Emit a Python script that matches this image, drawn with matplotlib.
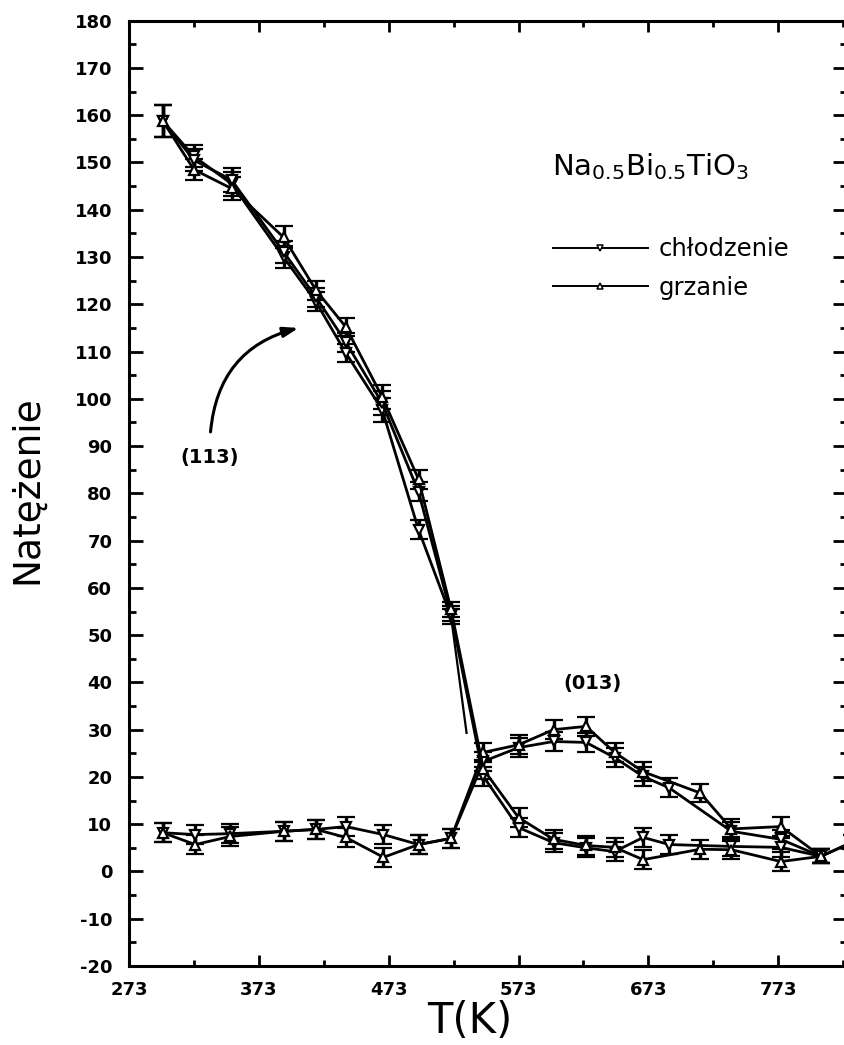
import matplotlib
matplotlib.use("Agg")
import matplotlib.pyplot as plt
from matplotlib.lines import Line2D
from matplotlib.ticker import MultipleLocator, FixedLocator

plt.rcParams['font.family'] = ['DejaVu Sans']
plt.rcParams['mathtext.fontset'] = 'custom'
plt.rcParams['mathtext.rm'] = 'DejaVu Sans'
plt.rcParams['mathtext.it'] = 'DejaVu Sans'
plt.rcParams['axes.unicode_minus'] = False

# ---------------- data ----------------
# (113) reflection
T113_heat = [299, 323, 352, 392, 417, 440, 468, 496, 521, 546, 573, 600, 625, 647, 669, 713, 737, 775, 806]
I113_heat = [158.8, 148.5, 144.5, 134.2, 123.0, 115.2, 100.4, 83.0, 55.5, 21.6, 11.4, 6.8, 5.5, 5.1, 2.5, 4.7, 4.6, 2.1, 3.2]
E113_heat = [3.4, 2.3, 2.5, 2.3, 2.0, 2.0, 2.5, 2.0, 1.6, 2.0, 2.0, 2.0, 2.0, 2.0, 2.0, 2.0, 2.0, 2.0, 1.5]

T113_cool = [299, 323, 352, 392, 417, 440, 468, 496, 521, 546, 573, 600, 625, 647, 669, 689, 737, 775, 806]
I113_cool = [158.8, 150.5, 146.3, 131.1, 121.5, 112.0, 99.1, 80.3, 54.5, 20.1, 9.3, 6.1, 5.0, 4.2, 7.2, 5.7, 5.3, 5.1, 3.2]
E113_cool = [3.4, 2.3, 2.5, 2.3, 2.0, 2.0, 2.5, 2.0, 1.6, 2.0, 2.0, 2.0, 2.0, 2.0, 2.0, 2.0, 2.0, 2.0, 1.5]

T113_cool2 = [299, 323, 352, 392, 417, 440, 468, 496, 521]
I113_cool2 = [158.8, 151.3, 145.5, 130.0, 120.5, 109.7, 97.7, 72.3, 54.0]
E113_cool2 = [3.4, 2.3, 2.5, 2.3, 2.0, 2.0, 2.5, 2.0, 1.6]
# extrapolated tail of the (113) drop (no measured marker)
T113_tail = [521, 533]
I113_tail = [54.0, 29.3]

# (013) reflection
T013_heat = [299, 324, 351, 392, 417, 440, 469, 496, 521, 546, 573, 600, 625, 647, 669, 713, 737, 775, 806, 830]
I013_heat = [8.2, 5.7, 7.4, 8.5, 8.9, 7.2, 3.0, 5.7, 7.0, 25.2, 26.8, 30.0, 30.7, 25.2, 21.1, 16.6, 9.0, 9.5, 3.2, 6.2]
E013_heat = [2.0] * 18 + [1.5, 1.5]

T013_cool = [299, 324, 351, 392, 417, 440, 469, 496, 521, 546, 573, 600, 625, 647, 669, 689, 737, 775, 806, 830]
I013_cool = [8.2, 7.8, 8.0, 8.5, 8.9, 9.5, 7.8, 5.7, 7.0, 23.3, 26.2, 27.5, 27.3, 24.1, 20.1, 17.7, 8.5, 6.8, 3.2, 6.2]
E013_cool = [2.0] * 18 + [1.5, 1.5]

xticks_major = [273, 373, 473, 573, 673, 773]
xticks_minor = [323, 423, 523, 623, 723, 823]

label_cool = 'chłodzenie'
label_heat = 'grzanie'

# ---------------- figure ----------------
W, H = 844, 1045
fig = plt.figure(figsize=(W / 100, H / 100), dpi=100)
ax_left, ax_right, ax_top, ax_bot = 129, 847, 20.7, 966
ax = fig.add_axes([ax_left / W, 1 - ax_bot / H, (ax_right - ax_left) / W, (ax_bot - ax_top) / H])
ax.set_xlim(273, 826)
ax.set_ylim(-20, 180)

line_kw = dict(color='black', lw=2.0, ms=7.0, mfc='white', mec='black', mew=1.6,
               elinewidth=2.4, capsize=6.5, capthick=2.4, ecolor='black')

ax.errorbar(T013_cool, I013_cool, yerr=E013_cool, marker='v', **line_kw)
ax.errorbar(T013_heat, I013_heat, yerr=E013_heat, marker='^', **line_kw)
ax.plot(T113_tail, I113_tail, color='black', lw=1.6)
ax.errorbar(T113_cool2, I113_cool2, yerr=E113_cool2, marker='v', **line_kw)
ax.errorbar(T113_cool, I113_cool, yerr=E113_cool, marker='v', **line_kw)
ax.errorbar(T113_heat, I113_heat, yerr=E113_heat, marker='^', **line_kw)

# ticks
ax.xaxis.set_major_locator(FixedLocator(xticks_major))
ax.xaxis.set_minor_locator(FixedLocator(xticks_minor))
ax.yaxis.set_major_locator(MultipleLocator(10))
ax.yaxis.set_minor_locator(MultipleLocator(5))
ax.tick_params(axis='both', which='both', direction='in', top=True, right=True, width=2.0, labelsize=13)
ax.tick_params(axis='y', which='major', length=10, pad=12)
ax.tick_params(axis='y', which='minor', length=5)
ax.tick_params(axis='x', which='major', length=8, pad=11)
ax.tick_params(axis='x', which='minor', length=4)
for lab in ax.get_xticklabels() + ax.get_yticklabels():
    lab.set_fontweight('bold')
for s in ax.spines.values():
    s.set_linewidth(2.2)

ax.set_xlabel('T(K)', fontsize=30)
ax.set_ylabel('Natężenie', fontsize=27)
ax.xaxis.set_label_coords(0.475, -0.036)
ax.yaxis.set_label_coords(-0.117, 0.5035)

# annotations
ax.text(598.5, 147.4, r'$\mathregular{Na_{0.5}Bi_{0.5}TiO_3}$', fontsize=21, ha='left', va='baseline')
ax.text(335, 87.5, '(113)', fontsize=14, fontweight='bold', ha='center', va='center')
ax.text(630, 39.7, '(013)', fontsize=14, fontweight='bold', ha='center', va='center')
ax.annotate('', xy=(403.6, 115.0), xytext=(335.8, 93.0),
            arrowprops=dict(arrowstyle='-|>,head_length=0.9,head_width=0.3', color='black', lw=2.2,
                            connectionstyle='arc3,rad=-0.35', shrinkA=0, shrinkB=0))

# legend
h_cool = Line2D([], [], color='black', lw=1.4, marker='v', ms=4.5, mfc='white', mec='black', mew=1.1)
h_heat = Line2D([], [], color='black', lw=1.4, marker='^', ms=4.5, mfc='white', mec='black', mew=1.1)
ax.legend([h_cool, h_heat], [label_cool, label_heat], loc='center left',
          bbox_to_anchor=(0.5905, 0.7379), frameon=False, fontsize=17.5,
          handlelength=3.9, handletextpad=0.45, labelspacing=0.6, borderpad=0, borderaxespad=0)

fig.savefig('out.png', dpi=100)
